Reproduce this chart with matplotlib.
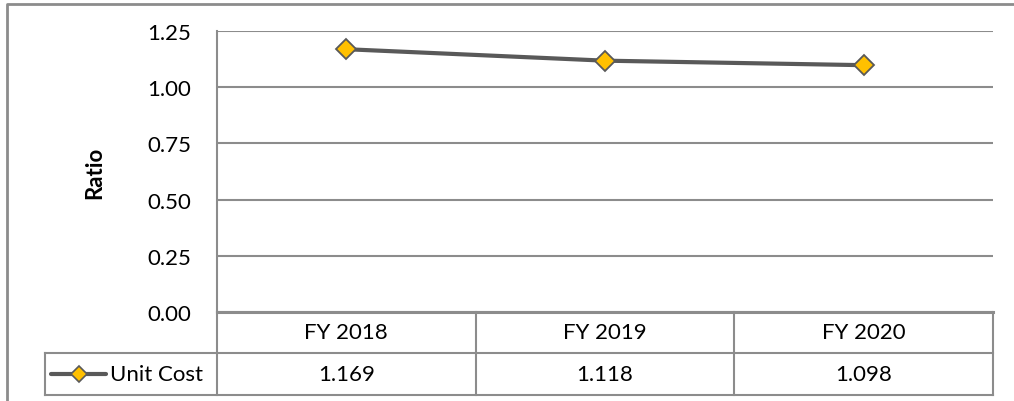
import matplotlib.pyplot as plt
from matplotlib.lines import Line2D
import matplotlib.transforms as mtransforms

plt.rcParams['font.family'] = ['Lato', 'DejaVu Sans']

# data
years = ['FY 2018', 'FY 2019', 'FY 2020']
unit_cost = [1.169, 1.118, 1.098]
series_name = 'Unit Cost'
y_ticks = [0.00, 0.25, 0.50, 0.75, 1.00, 1.25]

W, H = 1014, 402
fig = plt.figure(figsize=(W / 100, H / 100), dpi=100)
FS = 16


def fx(px):
    return px / W


def fy(py):
    return 1 - py / H


grid_c = '#8c8c8c'
line_c = '#595959'
gold = '#FFC000'

# plot area
left, right, top, bottom = 217, 993, 32, 313
ax = fig.add_axes([fx(left), fy(bottom), fx(right) - fx(left), fy(top) - fy(bottom)])
xs = list(range(len(years)))
ax.plot(xs, unit_cost, color=line_c, lw=3, marker='D', ms=10,
        mfc=gold, mec=line_c, mew=1.3, zorder=5, solid_capstyle='round')
ax.set_xlim(-0.5, len(years) - 0.5)
ax.set_ylim(0, 1.25)
ax.set_yticks(y_ticks)
ax.set_yticklabels([f'{v:.2f}' for v in y_ticks], fontsize=FS)
ax.set_xticks([])
ax.tick_params(axis='y', length=0, pad=18.5)
for s in ['top', 'right', 'bottom']:
    ax.spines[s].set_visible(False)
ax.spines['left'].set_color(grid_c)
ax.spines['left'].set_linewidth(1.5)
for v in y_ticks:
    ax.axhline(v, color=grid_c, lw=1.5 if v > 0 else 2.2, zorder=1)
ax.set_ylabel('Ratio', fontsize=FS, fontweight='bold')
ax.yaxis.set_label_coords((105 - left) / (right - left), 0.5)

# data table under the plot
row1, row2, row3 = 313, 354, 396
trans = mtransforms.blended_transform_factory(ax.transData, fig.transFigure)


def hline(x0, x1, py, lw=1.5):
    fig.add_artist(Line2D([fx(x0), fx(x1)], [fy(py), fy(py)], color=grid_c, lw=lw,
                          transform=fig.transFigure))


def vline(px, y0, y1, lw=1.5):
    fig.add_artist(Line2D([fx(px), fx(px)], [fy(y0), fy(y1)], color=grid_c, lw=lw,
                          transform=fig.transFigure))


hline(left, right, row1, 2.2)
hline(45, right, row2)
hline(45, right, row3)
vline(45, row2, row3)
vline(left, bottom, row3)
for i in range(1, len(years)):
    edge = ax.transData.transform((i - 0.5, 0))[0]
    vline(edge, row1, row3)
vline(right, row1, row3)

for i, (yr, val) in enumerate(zip(years, unit_cost)):
    fig.text(i, fy((row1 + row2) / 2), yr, transform=trans, ha='center', va='center',
             fontsize=FS)
    fig.text(i, fy((row2 + row3) / 2), f'{val:.3f}', transform=trans, ha='center',
             va='center', fontsize=FS)

# legend key in table
ly = fy((row2 + row3) / 2)
fig.add_artist(Line2D([fx(51), fx(106)], [ly, ly], color=line_c, lw=3,
                      solid_capstyle='round', transform=fig.transFigure))
fig.add_artist(Line2D([fx(79)], [ly], marker='D', ms=8, mfc=gold, mec=line_c, mew=1.2,
                      transform=fig.transFigure))
fig.text(fx(110), ly, series_name, ha='left', va='center', fontsize=FS)

# outer chart frame
fig.add_artist(Line2D([fx(7), fx(7), fx(W + 5)], [0, fy(5), fy(5)], color=grid_c, lw=2,
                      transform=fig.transFigure))

fig.savefig('out.png', dpi=100)
